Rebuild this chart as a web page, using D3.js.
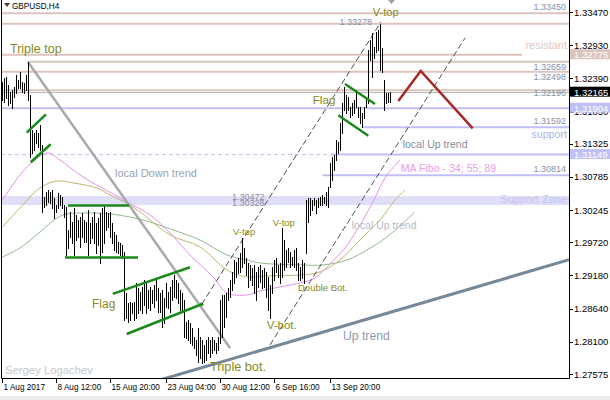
<!DOCTYPE html>
<html><head><meta charset="utf-8">
<script src="https://cdn.jsdelivr.net/npm/d3@7"></script>
<style>body{margin:0;background:#fff}svg{display:block}text{font-family:"Liberation Sans",Arial,sans-serif}</style>
</head><body><svg id="c" width="610" height="400"></svg>
<script>
// ---------- DATA ----------
const highs=[1.32331,1.32397,1.32413,1.32283,1.32169,1.32201,1.32250,1.32446,1.32364,1.32494,
1.32331,1.32315,1.32446,1.32659,1.32120,1.31550,1.31501,1.31550,1.31501,1.31631,
1.31305,1.30458,1.30540,1.30572,1.30540,1.30572,1.30442,1.30328,1.30524,1.30491,
1.30458,1.30328,1.30296,1.29921,1.30214,1.30051,1.30279,1.30165,1.30084,1.30133,
1.30198,1.30084,1.30051,1.30247,1.30035,1.30133,1.30214,1.30035,1.30116,1.30198,
1.30279,1.30328,1.30214,1.30198,1.30214,1.30035,1.29888,1.29840,1.29726,1.29709,
1.29677,1.29563,1.28895,1.28732,1.28749,1.28732,1.28749,1.29058,1.28976,1.28911,
1.28993,1.29107,1.29074,1.28944,1.28993,1.28944,1.29025,1.29107,1.28976,1.28895,
1.28944,1.28814,1.29058,1.28911,1.28993,1.29107,1.29188,1.29107,1.29058,1.28944,
1.28895,1.28781,1.28423,1.28455,1.28406,1.28325,1.28178,1.28129,1.28325,1.28178,
1.28129,1.28048,1.28129,1.28178,1.28129,1.28178,1.28129,1.28081,1.28178,1.28781,
1.28862,1.28862,1.28895,1.28976,1.29107,1.29237,1.29432,1.29400,1.29465,1.29546,
1.29791,1.29628,1.29465,1.29384,1.29351,1.29302,1.29351,1.29237,1.29318,1.29351,
1.29270,1.29302,1.29237,1.29156,1.29025,1.29318,1.29432,1.29465,1.29351,1.29384,
1.29954,1.29758,1.29595,1.29628,1.29563,1.29481,1.29595,1.29628,1.29384,1.29318,
1.29432,1.29384,1.30410,1.30442,1.30442,1.30410,1.30442,1.30410,1.30442,1.30458,
1.30491,1.30458,1.30540,1.30621,1.31012,1.31110,1.31143,1.31387,1.31354,1.31664,
1.31989,1.32250,1.32120,1.32087,1.31924,1.31989,1.32038,1.32201,1.31924,1.31924,
1.31827,1.31924,1.32087,1.32853,1.33016,1.33130,1.32902,1.33146,1.33178,1.33278,
1.32885,1.32364,1.32152,1.32152,1.32169];
const lows=[1.32038,1.32006,1.32071,1.31957,1.31989,1.31908,1.32087,1.32152,1.32234,1.32234,
1.32169,1.32152,1.32201,1.32038,1.31110,1.31175,1.31224,1.31338,1.31273,1.31224,
1.30214,1.30296,1.30328,1.30377,1.30361,1.30279,1.30116,1.30214,1.30279,1.30328,
1.30279,1.30133,1.29514,1.29628,1.29807,1.29709,1.29514,1.29758,1.29807,1.29644,
1.29807,1.29726,1.29726,1.29514,1.29709,1.29791,1.29709,1.29546,1.29677,1.29384,
1.29563,1.29709,1.29921,1.29970,1.29807,1.29709,1.29595,1.29563,1.29546,1.29514,
1.29465,1.28455,1.28488,1.28423,1.28455,1.28569,1.28455,1.28488,1.28569,1.28618,
1.28569,1.28700,1.28569,1.28651,1.28618,1.28732,1.28667,1.28781,1.28586,1.28586,
1.28341,1.28406,1.28667,1.28651,1.28586,1.28781,1.28830,1.28814,1.28732,1.28618,
1.28586,1.28178,1.28162,1.28129,1.28081,1.28048,1.27999,1.27885,1.27771,1.27836,
1.27755,1.27771,1.27804,1.27918,1.27853,1.27918,1.27967,1.27918,1.27967,1.28081,
1.28178,1.28341,1.28504,1.28781,1.28830,1.28944,1.29058,1.29156,1.29221,1.29237,
1.29318,1.29384,1.29188,1.28993,1.29107,1.29025,1.28895,1.28781,1.28993,1.29074,
1.28976,1.28993,1.28830,1.28618,1.28488,1.28895,1.29107,1.29237,1.29156,1.29058,
1.29156,1.29270,1.29318,1.29400,1.29318,1.29351,1.29318,1.29270,1.29107,1.29107,
1.29139,1.29058,1.29546,1.30051,1.30165,1.30247,1.30328,1.30198,1.30296,1.30328,
1.30328,1.30361,1.30328,1.30296,1.30621,1.30735,1.30898,1.31061,1.31175,1.31224,
1.31501,1.31875,1.31827,1.31875,1.31761,1.31794,1.31827,1.31924,1.31761,1.31664,
1.31599,1.31745,1.31924,1.31989,1.32690,1.32413,1.32722,1.32820,1.32853,1.32527,
1.32494,1.31875,1.31989,1.32006,1.32006];
const lastPrice=1.32165;

const yTicks=[1.33470,1.32930,1.32390,1.31850,1.31325,1.30785,1.30245,1.29720,1.29180,1.28640,1.28100,1.27575];
const xTickIdx=[0,27,54,82,109,136,164];
const xTickLabels=["1 Aug 2017","8 Aug 12:00","15 Aug 20:00","23 Aug 04:00","30 Aug 12:00","6 Sep 16:00","13 Sep 20:00"];

// moving averages [barIndex, price]
const ma34=[[0,1.30410],[8.75,1.30817],[16.25,1.31061],[22.75,1.31175],[28.75,1.31061],[38.75,1.30817],[48.75,1.30621],[56.25,1.30491],[62.25,1.30377],[73.75,1.30165],[83.75,1.29872],[93.75,1.29514],[105.25,1.29156],[112.25,1.28895],[122.25,1.28862],[128.75,1.28928],[138.75,1.28993],[148.75,1.29058],[156.25,1.29139],[163.75,1.29367],[171.25,1.29628],[177.25,1.29921],[185.25,1.30377],[191.25,1.30768],[198.75,1.31061]];
const ma55=[[0,1.29970],[8.75,1.30279],[18.75,1.30605],[27.25,1.30719],[35.25,1.30687],[47.25,1.30605],[53.75,1.30491],[65.25,1.30296],[83.75,1.29840],[98.75,1.29644],[112.25,1.29270],[122.25,1.29156],[132.25,1.29172],[148.75,1.29188],[158.75,1.29237],[168.75,1.29432],[178.75,1.29758],[188.75,1.30084],[196.25,1.30410],[201.25,1.30572]];
const ma89=[[0,1.29481],[8.75,1.29628],[18.75,1.29888],[27.25,1.30116],[32.25,1.30182],[42.25,1.30198],[53.75,1.30182],[70.25,1.30084],[85.25,1.29921],[98.75,1.29758],[112.25,1.29514],[122.25,1.29432],[128.75,1.29384],[148.75,1.29351],[160.25,1.29351],[172.25,1.29432],[182.25,1.29595],[192.25,1.29807],[206.25,1.30214]];

// horizontal levels
const roseLevels=[1.33450,1.33278,1.32775,1.32659,1.32498,1.32196];
const roseFrom=[-1,-1,-1,12.75,-1,-1];
const roseTo=[300,300,259.75,300,300,300];
const blueLevels=[1.31904,1.31592,1.31149,1.30814];
const blueFrom=[-1,180,164,160];
const dashedLevel=1.31149, dashedTo=164;
const supportZone=[1.30472,1.30328];

// trend lines & patterns [barIndex, price]
const downTrend=[[12.75,1.32657],[113.75,1.27999]];
const upTrend=[[80,1.27489],[283.25,1.29436]];
const upperChannel=[[99.6,1.28711],[189.25,1.33309]];
const lowerChannel=[[133.75,1.28048],[231.25,1.33048]];
const greenLines=[
 [[12.1,1.31506],[21.75,1.31805]],
 [[14.1,1.31024],[24.1,1.31317]],
 [[32.75,1.30320],[63.25,1.30320]],
 [[31.25,1.29473],[67.75,1.29473]],
 [[55.1,1.28879],[93.75,1.29314]],
 [[62.1,1.28227],[99.6,1.28711]],
 [[171.25,1.32299],[186.25,1.31973]],
 [[167.9,1.31789],[182.9,1.31457]]
];
const zigzag=[[197.9,1.32022],[209.1,1.32511],[235.1,1.31575]];

// annotations [text, barIndex, price]
const patternLabels=[["Triple top",3.75,1.32796,12.5],["Flag",44.75,1.28651,12],["V-top",115.25,1.29840,9.5],["V-top",135.1,1.29986,9.5],["Double Bot.",147.75,1.28928,9.5],["V-bot.",132.1,1.28300,11.5],["Triple bot.",103.75,1.27629,12.7],["V-top",185.1,1.33406,11.2],["Flag",155.1,1.31973,11.7]];
const grayLabels=[["local Down trend",56.25,1.30784,11,"#98a2b6"],["local  Up trend",200.1,1.31257,10.5,"#858c9c"],["local Up trend",174.6,1.29932,10.5,"#b8bac8"],["Up trend",170.25,1.28129,12.2,"#909ab0"],["MA Fibo - 34; 55; 89",199.1,1.30871,10.6,"#e69ee6"]];
const rightLabels=[["resistant",1.32861,11,"#e2c6be"],["support",1.31411,10.7,"#b2b2f0"],["Support Zone",1.30361,11,"#c4c4f2"]];
const priceTexts=[["1.33450",1.33450,-3],["1.32659",1.32659,8],["1.32498",1.32498,8.5],["1.32196",1.32196,6],["1.31592",1.31592,-3],["1.30814",1.30814,-3.5]];
const axisBoxes=[[1.32775,"#dcc4bc","#fff"],[1.31904,"#c0c0f4","#fff"],[1.31149,"#c0c0f4","#fff"],[1.32165,"#000","#fff"]];

// ---------- DRAW ----------
const svg=d3.select('#c');
const L=1,R=569,T=0,B=378;
const x=d3.scaleLinear().domain([0,283.25]).range([2.5,569]);
const y=d3.scaleLinear().domain([1.3345,1.27575]).range([13.3,374]);
svg.append('rect').attr('width',610).attr('height',400).attr('fill','#fff');
svg.append('rect').attr('x',0).attr('y',396).attr('width',610).attr('height',4).attr('fill','#ececec');
svg.append('defs').append('clipPath').attr('id','clip').append('rect').attr('x',L).attr('y',T).attr('width',R-L).attr('height',B-T);
const g=svg.append('g').attr('clip-path','url(#clip)');
const X=i=>i<0?L:x(i);
const line=d3.line().x(d=>x(d[0])).y(d=>y(d[1]));

// support zone
g.append('rect').attr('x',L).attr('width',R-L).attr('y',y(supportZone[0])).attr('height',y(supportZone[1])-y(supportZone[0])).attr('fill','#dedef9');

// levels
roseLevels.forEach((v,k)=>{g.append('line').attr('x1',X(roseFrom[k])).attr('x2',roseTo[k]>=283?R:x(roseTo[k])).attr('y1',y(v)).attr('y2',y(v)).attr('stroke','#dcc4bc').attr('stroke-width',2);});
g.append('line').attr('x1',L).attr('x2',R).attr('y1',Math.round(y(lastPrice))+0.5).attr('y2',Math.round(y(lastPrice))+0.5).attr('stroke','#b8b8b8').attr('stroke-width',1);
g.append('line').attr('x1',L).attr('x2',x(dashedTo)).attr('y1',y(dashedLevel)).attr('y2',y(dashedLevel)).attr('stroke','#c0c0f0').attr('stroke-width',1).attr('stroke-dasharray','4,3');
blueLevels.forEach((v,k)=>{g.append('line').attr('x1',X(blueFrom[k])).attr('x2',R).attr('y1',y(v)).attr('y2',y(v)).attr('stroke','#c0c0f4').attr('stroke-width',2);});

// MAs
const maLine=d3.line().x(d=>x(d[0])).y(d=>y(d[1])).curve(d3.curveCatmullRom.alpha(0.5));
[[ma89,'#8fbc8f'],[ma55,'#bdb76b'],[ma34,'#e690e6']].forEach(([d,c])=>g.append('path').attr('d',maLine(d)).attr('fill','none').attr('stroke',c).attr('stroke-width',1));

// trend lines
g.append('path').attr('d',line(downTrend)).attr('stroke','#a9a9a9').attr('stroke-width',2.5).attr('fill','none');
g.append('path').attr('d',line(upTrend)).attr('stroke','#778899').attr('stroke-width',3).attr('fill','none');
[upperChannel,lowerChannel].forEach(d=>g.append('path').attr('d',line(d)).attr('stroke','#505050').attr('stroke-width',1).attr('stroke-dasharray','6,3').attr('fill','none'));

// bars
g.append('g').selectAll('line').data(highs).join('line')
 .attr('x1',(d,i)=>x(i)).attr('x2',(d,i)=>x(i))
 .attr('y1',d=>Math.round(y(d))).attr('y2',(d,i)=>Math.round(y(lows[i]))+1)
 .attr('stroke','#000').attr('stroke-width',1).attr('shape-rendering','crispEdges');

// pattern lines
greenLines.forEach(d=>g.append('path').attr('d',line(d)).attr('stroke','#1a8a1a').attr('stroke-width',2.5).attr('fill','none'));
g.append('circle').attr('cx',x(upperChannel[0][0])).attr('cy',y(upperChannel[0][1])).attr('r',1.8).attr('fill','#1a8a1a');
g.append('path').attr('d',line(zigzag)).attr('stroke','#a52a2a').attr('stroke-width',2.5).attr('fill','none');

// texts
patternLabels.forEach(([t,i,p,s])=>svg.append('text').attr('x',x(i)).attr('y',y(p)).attr('font-size',s).attr('fill','#8a8a18').text(t));
grayLabels.forEach(([t,i,p,s,c])=>svg.append('text').attr('x',x(i)).attr('y',y(p)).attr('font-size',s).attr('fill',c).text(t));
rightLabels.forEach(([t,p,s,c])=>svg.append('text').attr('x',567).attr('y',y(p)).attr('text-anchor','end').attr('font-size',s).attr('fill',c).text(t));
priceTexts.forEach(([t,p,o])=>svg.append('text').attr('x',566).attr('y',y(p)+o).attr('text-anchor','end').attr('font-size',9).attr('fill','#8692a8').text(t));
svg.append('text').attr('x',x(184.75)).attr('y',y(1.33278)+1).attr('text-anchor','end').attr('font-size',9).attr('fill','#8692a8').text('1.33278');
svg.append('text').attr('x',232).attr('y',y(supportZone[0])+4).attr('font-size',9).attr('fill','#8c8c9c').text('1.30472');
svg.append('text').attr('x',232).attr('y',y(supportZone[1])+1.5).attr('font-size',9).attr('fill','#8c8c9c').text('1.30328');
svg.append('text').attr('x',5).attr('y',374).attr('font-size',11.3).attr('fill','#c8c8c8').text('Sergey Logachev');
svg.append('path').attr('d','M4,3L10,3L7,7Z').attr('fill','#404040');
svg.append('text').attr('x',12).attr('y',9).attr('font-size',8.2).attr('fill','#000').text('GBPUSD,H4');
svg.append('path').attr('d',`M${x(194.5)-3.5},0L${x(194.5)+3.5},0L${x(194.5)},4Z`).attr('fill','#a0a0a0');

// frame
svg.append('path').attr('d',`M${L+0.5},${T}V${B+0.5}H${R+0.5}V${T}`).attr('fill','none').attr('stroke','#000').attr('stroke-width',1);

// y axis
yTicks.forEach(v=>{const yy=Math.round(y(v))+0.5;
 svg.append('line').attr('x1',R).attr('x2',R+4).attr('y1',yy).attr('y2',yy).attr('stroke','#000');
 svg.append('text').attr('x',574).attr('y',y(v)+3.5).attr('font-size',9.5).attr('fill','#000').text(v.toFixed(5));});
axisBoxes.forEach(([v,f,c])=>{const yy=y(v);
 svg.append('rect').attr('x',570).attr('y',yy-5.5).attr('width',40).attr('height',10).attr('fill',f);
 svg.append('text').attr('x',574).attr('y',yy+3.5).attr('font-size',9.5).attr('fill',c).text(v.toFixed(5));});

// x axis
xTickIdx.forEach((i,k)=>{const xx=Math.round(x(i))-0.5;
 svg.append('line').attr('x1',xx).attr('x2',xx).attr('y1',B).attr('y2',B+5).attr('stroke','#000');
 svg.append('text').attr('x',xx+1).attr('y',390).attr('font-size',8.2).attr('fill','#000').text(xTickLabels[k]);});
</script></body></html>
